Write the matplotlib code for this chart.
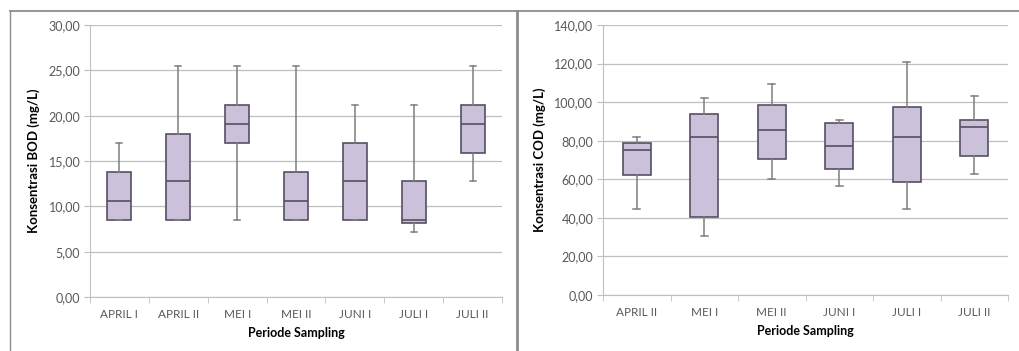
import matplotlib.pyplot as plt
from matplotlib.lines import Line2D

plt.rcParams["font.family"] = ["Lato", "DejaVu Sans"]

# BOD per sampling period (mg/L)
bod_periods = ["APRIL I", "APRIL II", "MEI I", "MEI II", "JUNI I", "JULI I", "JULI II"]
bod_low = [8.5, 8.5, 8.5, 8.5, 8.5, 7.2, 12.8]
bod_q1 = [8.5, 8.5, 17.0, 8.5, 8.5, 8.2, 15.9]
bod_med = [10.6, 12.8, 19.1, 10.6, 12.8, 8.5, 19.1]
bod_q3 = [13.8, 18.0, 21.2, 13.8, 17.0, 12.8, 21.2]
bod_high = [17.0, 25.5, 25.5, 25.5, 21.2, 21.2, 25.5]

# COD per sampling period (mg/L)
cod_periods = ["APRIL II", "MEI I", "MEI II", "JUNI I", "JULI I", "JULI II"]
cod_low = [44.8, 30.6, 60.4, 56.4, 44.8, 63.0]
cod_q1 = [62.0, 40.5, 70.4, 65.4, 58.5, 72.3]
cod_med = [75.4, 82.0, 85.5, 77.5, 82.0, 86.9]
cod_q3 = [79.0, 93.6, 98.4, 89.3, 97.6, 91.0]
cod_high = [82.0, 101.9, 109.2, 90.5, 120.6, 103.3]

W, H = 1019, 351
FILL = "#CCC1DA"
EDGE = "#555060"
WHISK = "#7F7F7F"
GRID = "#BFBFBF"
TXT = "#595959"


def px_axes(fig, x0, y0, x1, y1):
    # pixel box (top-left origin) -> figure axes
    return fig.add_axes([x0 / W, 1 - y1 / H, (x1 - x0) / W, (y1 - y0) / H])


def draw_box(ax, periods, low, q1, med, q3, high, ymax, ystep, ylabel):
    stats = []
    for name, lo, a, m, b, hi in zip(periods, low, q1, med, q3, high):
        stats.append({"label": name, "whislo": lo, "q1": a, "med": m,
                      "q3": b, "whishi": hi, "fliers": []})
    pos = list(range(len(periods)))
    ax.bxp(stats, positions=pos, widths=0.41, patch_artist=True,
           showfliers=False,
           boxprops=dict(facecolor=FILL, edgecolor=EDGE, linewidth=1.2),
           medianprops=dict(color=EDGE, linewidth=1.2),
           whiskerprops=dict(color=WHISK, linewidth=1.1),
           capprops=dict(color=WHISK, linewidth=1.1),
           capwidths=0.1)

    ax.set_xlim(-0.5, len(periods) - 0.5)
    ax.set_ylim(0, ymax)
    ticks = [i * ystep for i in range(int(round(ymax / ystep)) + 1)]
    ax.set_yticks(ticks)
    ax.set_yticklabels([f"{t:.2f}".replace(".", ",") for t in ticks])
    ax.yaxis.grid(True, color=GRID, linewidth=0.9)
    ax.set_axisbelow(True)

    # category labels between boundary ticks
    ax.set_xticks(pos)
    ax.set_xticklabels(periods)
    ax.tick_params(axis="x", length=0, labelsize=8.5, colors=TXT, pad=9)
    ax.set_xticks([i - 0.5 for i in range(len(periods) + 1)], minor=True)
    ax.tick_params(axis="x", which="minor", length=4, color=GRID, direction="out")
    ax.tick_params(axis="y", length=4, color=GRID, labelsize=9, colors=TXT, pad=3)

    for s in ["top", "right"]:
        ax.spines[s].set_visible(False)
    ax.spines["left"].set_color(GRID)
    ax.spines["bottom"].set_color(GRID)

    ax.set_xlabel("Periode Sampling", fontsize=9, fontweight="bold", labelpad=5)
    ax.set_ylabel(ylabel, fontsize=9.5, fontweight="bold", labelpad=6)


fig = plt.figure(figsize=(W / 100, H / 100), dpi=100, facecolor="white")

ax_bod = px_axes(fig, 90, 25, 502, 297)
draw_box(ax_bod, bod_periods, bod_low, bod_q1, bod_med, bod_q3, bod_high,
         30, 5, "Konsentrasi BOD (mg/L)")

ax_cod = px_axes(fig, 603, 25, 1008, 295)
draw_box(ax_cod, cod_periods, cod_low, cod_q1, cod_med, cod_q3, cod_high,
         140, 20, "Konsentrasi COD (mg/L)")

# panel frames
fig.add_artist(Line2D([9.5 / W, 1], [1 - 10.5 / H] * 2, color="#8C8C8C", linewidth=1.3))
fig.add_artist(Line2D([9.5 / W] * 2, [0, 1 - 10.5 / H], color="#8C8C8C", linewidth=1.0))
fig.add_artist(Line2D([516.5 / W] * 2, [0, 1 - 10.5 / H], color="#8C8C8C", linewidth=2.0))

fig.savefig("out.png", dpi=100, facecolor="white")
